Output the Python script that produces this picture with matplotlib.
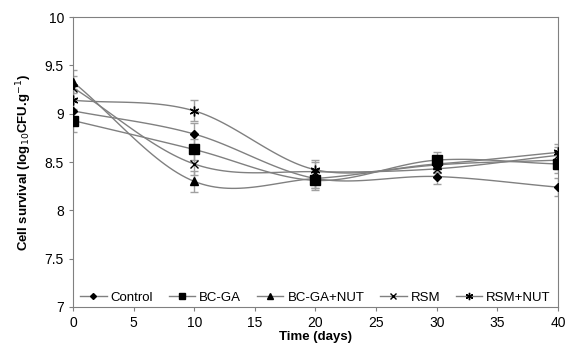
import numpy as np
import matplotlib
matplotlib.use("Agg")
import matplotlib.pyplot as plt

plt.rcParams['font.family'] = ['Liberation Sans', 'DejaVu Sans']

days = [0, 10, 20, 30, 40]
control = [9.03, 8.79, 8.33, 8.35, 8.24]
bc_ga = [8.93, 8.63, 8.31, 8.52, 8.48]
bc_ga_nut = [9.33, 8.30, 8.33, 8.47, 8.52]
rsm = [9.27, 8.48, 8.40, 8.43, 8.57]
rsm_nut = [9.14, 9.03, 8.42, 8.48, 8.60]
err = [0.12, 0.11, 0.10, 0.08, 0.09]

series = [("Control", control, "D", 4), ("BC-GA", bc_ga, "s", 6.5),
          ("BC-GA+NUT", bc_ga_nut, "^", 5.5), ("RSM", rsm, "x", 6),
          ("RSM+NUT", rsm_nut, (6, 2, 0), 7)]


def smooth(x, y, n=30):
    # catmull-rom style smoothing like the spreadsheet's smoothed lines
    x = np.asarray(x, float); y = np.asarray(y, float)
    px = np.concatenate([[2 * x[0] - x[1]], x, [2 * x[-1] - x[-2]]])
    py = np.concatenate([[2 * y[0] - y[1]], y, [2 * y[-1] - y[-2]]])
    xs, ys = [], []
    for i in range(1, len(px) - 2):
        t = np.linspace(0, 1, n)
        for p, out in ((px, xs), (py, ys)):
            p0, p1, p2, p3 = p[i - 1], p[i], p[i + 1], p[i + 2]
            out.extend(0.5 * (2 * p1 + (-p0 + p2) * t + (2 * p0 - 5 * p1 + 4 * p2 - p3) * t ** 2
                              + (-p0 + 3 * p1 - 3 * p2 + p3) * t ** 3))
    return xs, ys


fig = plt.figure(figsize=(5.7, 3.5), dpi=100)
ax = fig.add_axes([0.128, 0.123, 0.851, 0.828])

for name, vals, mk, ms in series:
    sx, sy = smooth(days, vals)
    ax.plot(sx, sy, color='#808080', lw=1.0, zorder=2)
    ax.errorbar(days, vals, yerr=err, fmt='none', ecolor='#a0a0a0', elinewidth=1, capsize=3, zorder=1)
    ax.plot(days, vals, linestyle='none', marker=mk, markersize=ms, color='black',
            markeredgecolor='black', zorder=3)
    # legend entry: short grey line with the black marker
    ax.plot([], [], color='#808080', lw=1.0, marker=mk, markersize=ms * 0.75,
            markerfacecolor='black', markeredgecolor='black', label=name)

ax.set_xlim(0, 40)
ax.set_ylim(7, 10)
ax.set_xticks(range(0, 41, 5))
ax.set_yticks([7, 7.5, 8, 8.5, 9, 9.5, 10])
ax.set_yticklabels(['7', '7.5', '8', '8.5', '9', '9.5', '10'])
ax.tick_params(labelsize=10, length=3, color='#808080')
for s in ax.spines.values():
    s.set_color('#808080')

ax.set_xlabel('Time (days)', fontsize=9.5, fontweight='bold', labelpad=1)
ax.set_ylabel('Cell survival (log$_{10}$CFU.g$^{-1}$)', fontsize=9.5, fontweight='bold', labelpad=8)

ax.legend(loc='lower center', ncol=5, frameon=False, fontsize=9.5, handlelength=2.0,
          handletextpad=0.3, columnspacing=1.2, bbox_to_anchor=(0.5, -0.03))

fig.savefig('out.png', dpi=100)
